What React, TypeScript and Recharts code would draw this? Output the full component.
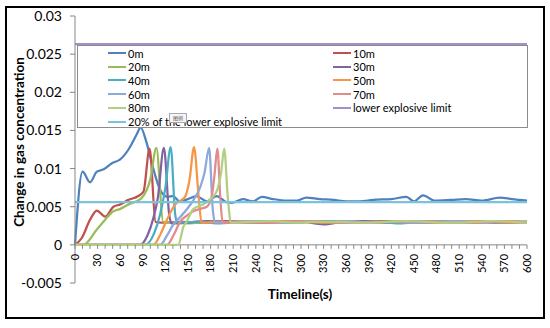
import React from "react";
import {
  LineChart,
  Line,
  XAxis,
  YAxis,
  Legend,
  ReferenceLine,
} from "recharts";

// time (s), concentration change
const s0m: [number, number][] = [
  [0, 0], [10, 0.0096], [20, 0.0082], [29, 0.0096], [38, 0.0099], [49, 0.0107],
  [60, 0.0112], [71, 0.0125], [82, 0.0145], [87, 0.0154], [95, 0.0134], [102, 0.0107],
  [111, 0.0077], [117, 0.0066], [123, 0.0063], [130, 0.0064], [139, 0.0057], [150, 0.006],
  [161, 0.0064], [175, 0.0057], [188, 0.0064], [201, 0.0056], [208, 0.0055], [223, 0.006],
  [236, 0.0057], [248, 0.0063], [263, 0.006], [281, 0.0058], [295, 0.0058], [307, 0.0062],
  [325, 0.006], [343, 0.0059], [360, 0.0057], [378, 0.0057], [396, 0.0059], [420, 0.006],
  [440, 0.0063], [450, 0.0057], [462, 0.0065], [477, 0.0058], [500, 0.0059], [519, 0.006],
  [540, 0.0058], [564, 0.0062], [580, 0.006], [600, 0.0058],
];
const s10m: [number, number][] = [
  [0, 0], [9, 0.0009], [20, 0.0033], [29, 0.0045], [40, 0.0037], [51, 0.005], [60, 0.0053],
  [71, 0.0059], [84, 0.0064], [91, 0.007], [99, 0.0126], [107, 0.003], [115, 0.0029],
  [140, 0.003], [170, 0.0029], [200, 0.0031], [230, 0.003], [260, 0.0029], [290, 0.0031],
  [320, 0.003], [350, 0.0029], [380, 0.003], [410, 0.0031], [440, 0.003], [470, 0.0029],
  [500, 0.003], [530, 0.0031], [560, 0.0029], [600, 0.003],
];
const s20m: [number, number][] = [
  [0, 0], [11, 0], [29, 0.002], [40, 0.0033], [51, 0.0044], [60, 0.0047], [71, 0.0053],
  [88, 0.0061], [100, 0.0086], [108, 0.0127], [117, 0.003], [125, 0.0029],
  [150, 0.0028], [180, 0.003], [210, 0.0029], [240, 0.0031], [270, 0.003], [300, 0.0029],
  [330, 0.0031], [360, 0.003], [390, 0.0029], [420, 0.003], [450, 0.0031], [480, 0.0029],
  [510, 0.003], [540, 0.0029], [570, 0.0031], [600, 0.003],
];
const s30m: [number, number][] = [
  [0, 0], [86, 0], [96, 0.0012], [104, 0.0035], [110, 0.0062], [118, 0.0127], [125, 0.004],
  [128, 0.0028], [145, 0.0029], [175, 0.0031], [205, 0.003], [235, 0.0029], [265, 0.003],
  [295, 0.0031], [330, 0.0027], [355, 0.003], [385, 0.0031], [415, 0.0029], [445, 0.003],
  [475, 0.0031], [505, 0.0029], [535, 0.003], [565, 0.0029], [600, 0.003],
];
const s40m: [number, number][] = [
  [0, 0], [93, 0], [105, 0.0015], [113, 0.004], [120, 0.0075], [127, 0.0128], [133, 0.004],
  [136, 0.0029], [160, 0.003], [190, 0.0028], [220, 0.003], [250, 0.0031], [280, 0.0029],
  [310, 0.003], [340, 0.0031], [370, 0.0029], [400, 0.003], [430, 0.0028], [460, 0.003],
  [490, 0.0031], [520, 0.0029], [550, 0.003], [580, 0.003], [600, 0.0029],
];
const s50m: [number, number][] = [
  [0, 0], [104, 0], [113, 0.0013], [122, 0.0033], [133, 0.0053], [146, 0.0063], [152, 0.0085],
  [158, 0.0128], [164, 0.0065], [168, 0.0029], [190, 0.003], [220, 0.0029], [250, 0.003],
  [280, 0.0031], [310, 0.003], [340, 0.0029], [370, 0.003], [400, 0.0029], [430, 0.0031],
  [460, 0.003], [490, 0.0029], [520, 0.0031], [550, 0.003], [580, 0.0029], [600, 0.003],
];
const s60m: [number, number][] = [
  [0, 0], [113, 0], [122, 0.0012], [130, 0.0026], [140, 0.0037], [148, 0.0046], [158, 0.006],
  [166, 0.0075], [172, 0.0095], [178, 0.0127], [183, 0.0045], [186, 0.0029], [210, 0.003],
  [240, 0.0031], [270, 0.0029], [300, 0.003], [330, 0.003], [360, 0.0031], [390, 0.0029],
  [420, 0.003], [450, 0.0029], [480, 0.003], [510, 0.0031], [540, 0.0029], [570, 0.003],
  [600, 0.003],
];
const s70m: [number, number][] = [
  [0, 0], [122, 0], [131, 0.0013], [140, 0.0031], [148, 0.0038], [157, 0.0044], [166, 0.0047],
  [175, 0.005], [181, 0.0061], [185, 0.009], [189, 0.0126], [193, 0.006], [196, 0.0029],
  [220, 0.003], [250, 0.0029], [280, 0.003], [310, 0.0031], [340, 0.003], [370, 0.0029],
  [400, 0.003], [430, 0.003], [460, 0.0031], [490, 0.003], [520, 0.0029], [550, 0.003],
  [580, 0.0031], [600, 0.0029],
];
const s80m: [number, number][] = [
  [0, 0], [137, 0], [144, 0.0024], [148, 0.003], [157, 0.0047], [170, 0.0053], [180, 0.006],
  [188, 0.007], [194, 0.0095], [198, 0.0126], [203, 0.006], [207, 0.0029], [230, 0.003],
  [260, 0.0031], [290, 0.0029], [320, 0.003], [350, 0.003], [380, 0.0029], [410, 0.003],
  [440, 0.0031], [470, 0.003], [500, 0.0029], [530, 0.003], [560, 0.0031], [600, 0.0029],
];
const lelValue = 0.0263;
const lel20Value = 0.0056;

const seriesNames = ["0m", "10m", "20m", "30m", "40m", "50m", "60m", "70m", "80m", "lower explosive limit", "20% of the lower explosive limit"];
const seriesColors = ["#4F81BD", "#C0504D", "#9BBB59", "#8064A2", "#4BACC6", "#F79646", "#8DA8DB", "#E28B8C", "#B1CF81", "#A390C8", "#7CC2DA"];
const seriesData = [
  s0m, s10m, s20m, s30m, s40m, s50m, s60m, s70m, s80m,
  [[0, lelValue], [600, lelValue]] as [number, number][],
  [[0, lel20Value], [600, lel20Value]] as [number, number][],
];

const yTicks = [-0.005, 0, 0.005, 0.01, 0.015, 0.02, 0.025, 0.03];
const xLabels = [0, 30, 60, 90, 120, 150, 180, 210, 240, 270, 300, 330, 360, 390, 420, 450, 480, 510, 540, 570, 600];
const xTicks = Array.from({ length: 61 }, (_, i) => i * 10);

const FONT = "Lato, 'Open Sans', sans-serif";
const AXIS = "#868686";
const PLOT_H = 267;
const ZERO_SHIFT = (PLOT_H * 0.005) / 0.035;

const toPoints = (a: [number, number][]) => a.map(([t, v]) => ({ t, v }));

const XTick = (props: any) => {
  const { x, y, payload } = props;
  const zy = y - ZERO_SHIFT;
  const showLabel = xLabels.includes(payload.value);
  return (
    <g>
      <line x1={x} x2={x} y1={zy} y2={zy + 4} stroke={AXIS} />
      {showLabel && (
        <text
          x={x}
          y={zy + 9}
          transform={`rotate(-90 ${x} ${zy + 9})`}
          textAnchor="end"
          dy="0.35em"
          fontSize={11}
          fontFamily={FONT}
          fill="#000"
        >
          {payload.value}
        </text>
      )}
    </g>
  );
};

const renderLegend = () => {
  const left = [0, 2, 4, 6, 8, 10];
  const right = [1, 3, 5, 7, 9];
  const item = (i: number, row: number, col: number) => (
    <div
      key={i}
      style={{
        position: "absolute",
        left: col === 0 ? 30 : 255,
        top: row * 13.7,
        height: 14,
        display: "flex",
        alignItems: "center",
        whiteSpace: "nowrap",
      }}
    >
      <span style={{ display: "inline-block", width: 18, height: 2, background: seriesColors[i] }} />
      <span style={{ marginLeft: 2, fontSize: 11, fontFamily: FONT, color: "#000" }}>{seriesNames[i]}</span>
    </div>
  );
  return (
    <div
      style={{
        position: "relative",
        width: 451,
        height: 83,
        background: "#fff",
        border: "1px solid #8c8c8c",
        boxSizing: "border-box",
      }}
    >
      <div style={{ position: "absolute", left: 0, top: 0 }}>
        {left.map((i, r) => item(i, r, 0))}
        {right.map((i, r) => item(i, r, 1))}
      </div>
      <div
        style={{
          position: "absolute",
          left: 91,
          top: 67,
          width: 16,
          height: 8,
          border: "1px solid #aaa",
          background: "#f4f4f4",
          fontSize: 5,
          lineHeight: "8px",
          textAlign: "center",
          fontFamily: "'Noto Sans CJK SC', sans-serif",
          color: "#555",
        }}
      >
        图例
      </div>
    </div>
  );
};

export default function App() {
  return (
    <div style={{ position: "absolute", left: 0, top: 0, width: 550, height: 328, background: "#fff" }}>
      <LineChart width={550} height={328} margin={{ top: 16, right: 23, left: 0, bottom: 0 }}>
        <XAxis
          type="number"
          dataKey="t"
          domain={[0, 600]}
          ticks={xTicks}
          interval={0}
          axisLine={false}
          tickLine={false}
          tickSize={0}
          tickMargin={0}
          height={45}
          tick={<XTick />}
          label={{
            content: () => (
              <text x={300} y={294} textAnchor="middle" dominantBaseline="central" fontSize={13.5} fontWeight="bold" fontFamily={FONT} fill="#000">
                Timeline(s)
              </text>
            ),
          }}
        />
        <YAxis
          type="number"
          domain={[-0.005, 0.03]}
          ticks={yTicks}
          interval={0}
          width={75}
          stroke={AXIS}
          tickSize={5}
          tickMargin={8}
          tick={{ fill: "#000", fontSize: 14, fontFamily: FONT }}
          label={{
            content: () => (
              <text x={19} y={142} transform="rotate(-90 19 142)" textAnchor="middle" dominantBaseline="central" fontSize={13.5} fontWeight="bold" fontFamily={FONT} fill="#000">
                Change in gas concentration
              </text>
            ),
          }}
        />
        <ReferenceLine y={0} stroke={AXIS} />
        {seriesData.map((d, i) => (
          <Line
            key={seriesNames[i]}
            data={toPoints(d)}
            dataKey="v"
            name={seriesNames[i]}
            type="monotone"
            stroke={seriesColors[i]}
            strokeWidth={2.25}
            dot={false}
            activeDot={false}
            isAnimationActive={false}
          />
        ))}
        <Legend
          layout="horizontal"
          verticalAlign="middle"
          align="center"
          content={renderLegend}
          wrapperStyle={{ left: 77, top: 45, width: 451, height: 83 }}
        />
      </LineChart>
      <div
        style={{
          position: "absolute",
          left: 5,
          top: 6,
          width: 540,
          height: 313,
          border: "2px solid #000",
          boxSizing: "border-box",
          pointerEvents: "none",
        }}
      />
    </div>
  );
}
